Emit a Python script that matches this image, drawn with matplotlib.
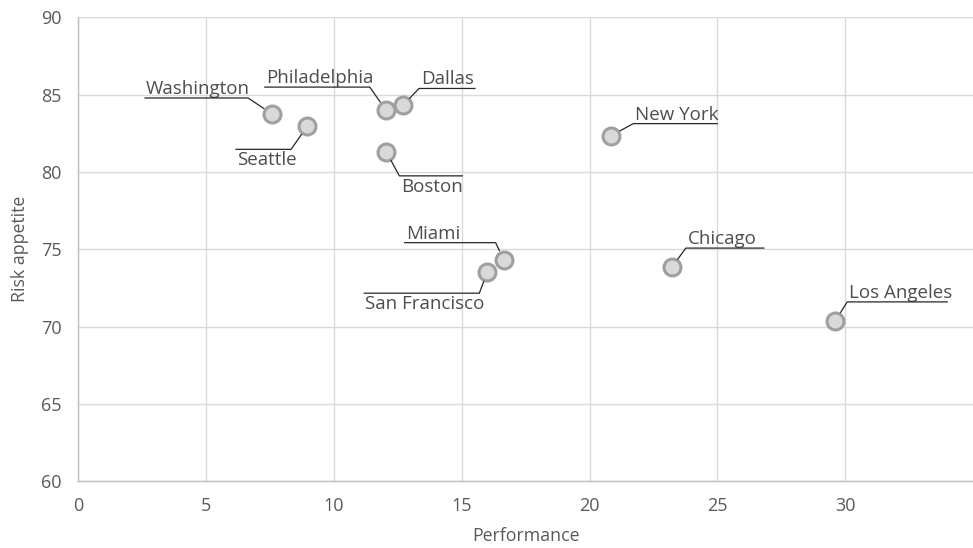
import numpy as np
import matplotlib.pyplot as plt
from matplotlib.lines import Line2D
from matplotlib.transforms import IdentityTransform

plt.rcParams['font.family'] = ['Open Sans', 'DejaVu Sans']

# data
cities = ["Washington", "Seattle", "Philadelphia", "Dallas", "Boston",
          "New York", "Miami", "San Francisco", "Chicago", "Los Angeles"]
performance = [7.58, 8.95, 12.03, 12.7, 12.05, 20.85, 16.64, 16.0, 23.22, 29.61]
risk_appetite = [83.75, 82.95, 84.0, 84.3, 81.3, 82.35, 74.33, 73.52, 73.85, 70.37]

x_ticks = [0, 5, 10, 15, 20, 25, 30]
y_ticks = [60, 65, 70, 75, 80, 85, 90]

# label leader layout, pixel offsets from the marker centre (y down)
# (elbow dx, elbow dy, underline end dx, text below line?)
leader = {
    "Washington":    (-24, -16, -127, False),
    "Seattle":       (-16, 23, -71, True),
    "Philadelphia":  (-16, -23, -121, False),
    "Dallas":        (16, -17, 72, False),
    "Boston":        (13, 24, 76, True),
    "New York":      (22, -12, 106, False),
    "Miami":         (-8, -17, -99, False),
    "San Francisco": (-8, 21, -123, True),
    "Chicago":       (14, -19, 92, False),
    "Los Angeles":   (12, -19, 112, False),
}

W, H = 973, 548
fig = plt.figure(figsize=(W / 100, H / 100), dpi=100)
ax = fig.add_axes([78.3 / W, (H - 481.3) / H, (W - 78.3) / W, (481.3 - 17.3) / H])

ax.scatter(performance, risk_appetite, s=12.2 ** 2, facecolor="#d9d9d9",
           edgecolor="#9f9f9f", linewidths=2.2, zorder=3)

ax.set_xlim(0, 35)
ax.set_ylim(60, 90)
ax.set_xticks(x_ticks)
ax.set_yticks(y_ticks)
ax.grid(True, color="#d9d9d9", lw=1.0)
ax.set_axisbelow(True)
for side in ["top", "right"]:
    ax.spines[side].set_visible(False)
for side in ["left", "bottom"]:
    ax.spines[side].set_color("#bfbfbf")
    ax.spines[side].set_linewidth(1.0)
ax.tick_params(length=0, labelsize=13, labelcolor="#595959")
ax.tick_params(axis="y", pad=12)
ax.tick_params(axis="x", pad=11)
ax.set_xlabel("Performance", fontsize=12.8, color="#595959", labelpad=9)
ax.set_ylabel("Risk appetite", fontsize=12.8, color="#595959", labelpad=9)

# leader lines + labels, drawn in display pixels
for name, x, y in zip(cities, performance, risk_appetite):
    ex, ey, end, below = leader[name]
    cx, cy = ax.transData.transform((x, y))
    r = 10.0
    d = np.hypot(ex, ey)
    sx, sy = cx + ex / d * r, cy - ey / d * r
    px = [sx, cx + ex, cx + end]
    py = [sy, cy - ey, cy - ey]
    fig.add_artist(Line2D(px, py, transform=IdentityTransform(),
                          color="#262626", lw=0.9, zorder=4))
    if end < 0:
        tx = cx + end + 1
    else:
        tx = cx + ex + 2
    if below:
        fig.text(tx, cy - ey - 2, name, transform=IdentityTransform(),
                 ha="left", va="top", fontsize=13.5, color="#4d4d4d")
    else:
        fig.text(tx, cy - ey + 4, name, transform=IdentityTransform(),
                 ha="left", va="baseline", fontsize=13.5, color="#4d4d4d")

fig.savefig("out.png", dpi=100)
